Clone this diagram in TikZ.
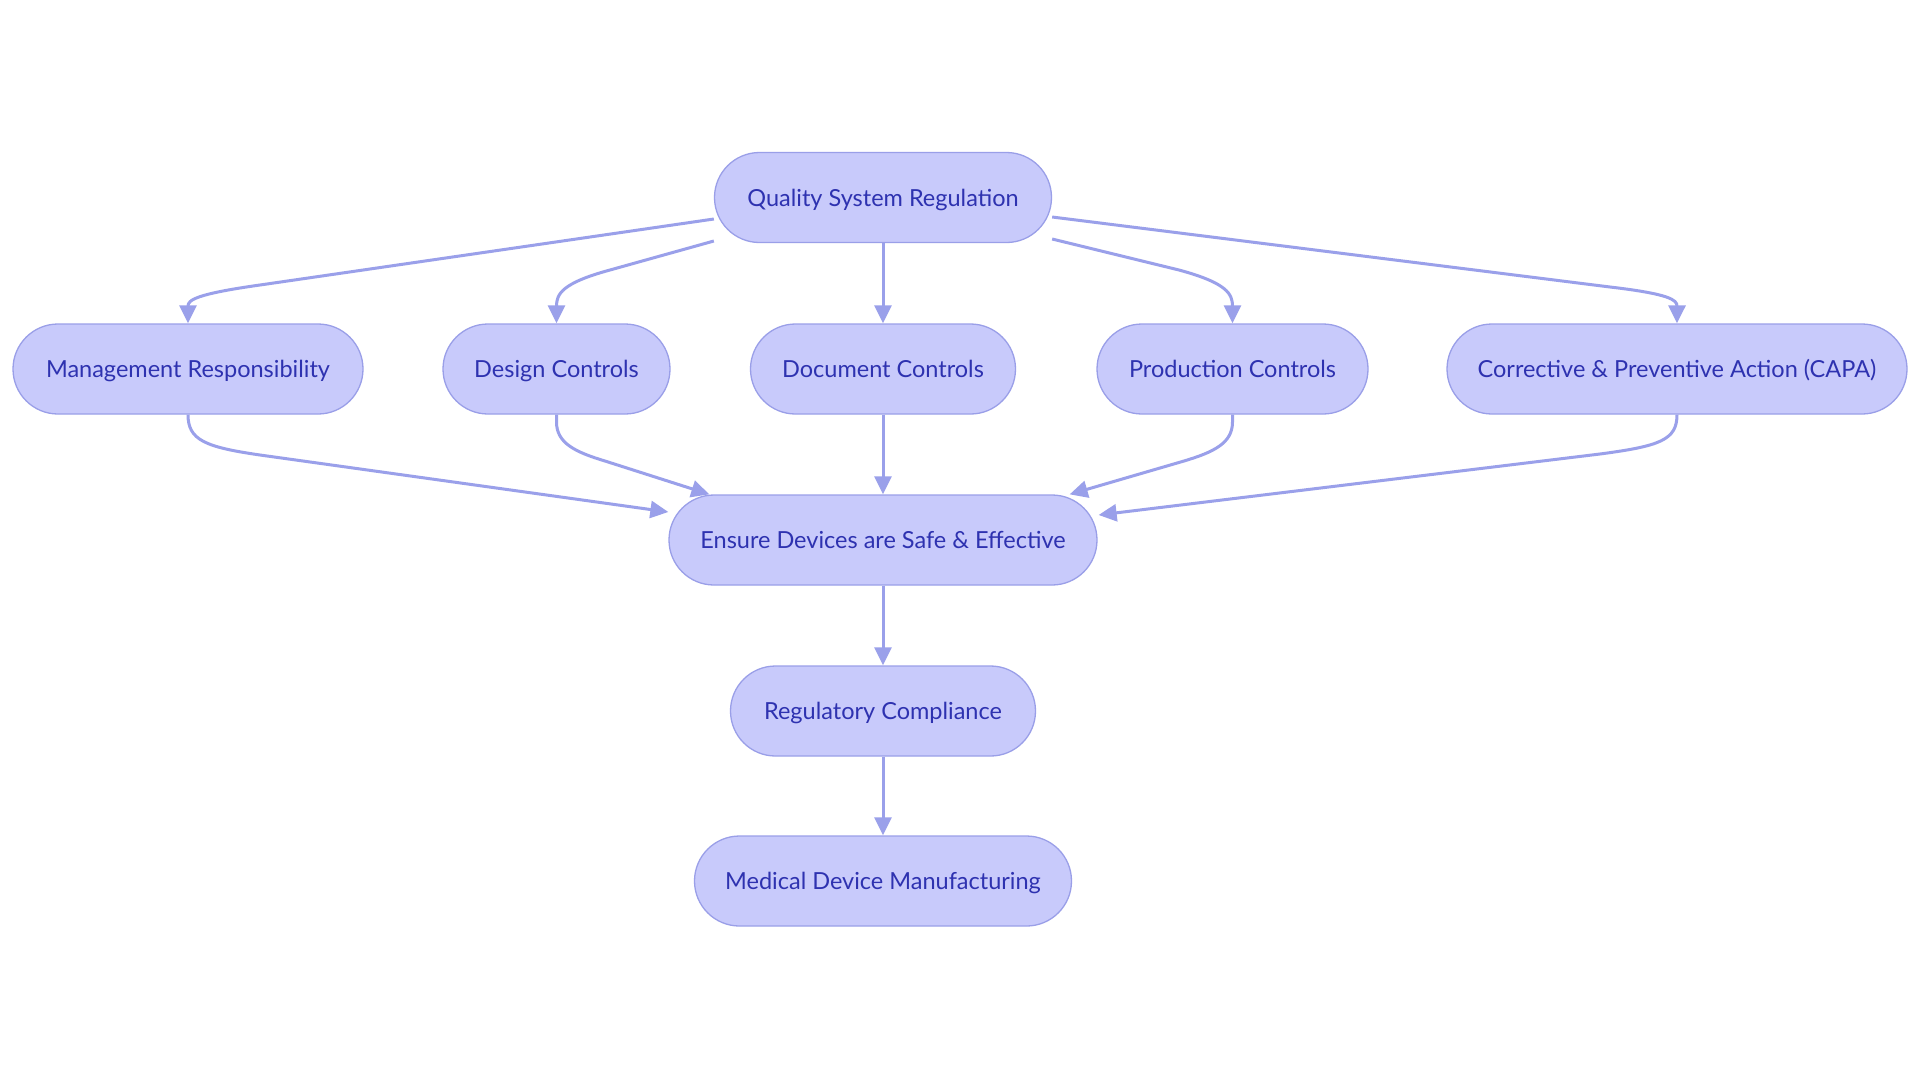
\documentclass[tikz,border=0pt]{standalone}
\usepackage{fontspec}
\setmainfont{Lato}
\usetikzlibrary{arrows.meta,calc}
\definecolor{boxfill}{HTML}{C8CAFB}
\definecolor{boxline}{HTML}{9A9FE8}
\definecolor{edgecol}{HTML}{9AA0EA}
\definecolor{txt}{HTML}{2E32B0}
\tikzset{
  box/.style={draw=boxline, line width=1.3pt, fill=boxfill, rounded corners=45pt,
    minimum height=90pt, inner sep=0pt, text=txt, text height=19pt, text depth=2pt,
    font=\fontsize{23.5}{28}\selectfont},
  conn/.style={draw=edgecol, line width=3pt, -{Triangle[length=18pt,width=17pt]}}
}
\begin{document}
\begin{tikzpicture}[x=1pt,y=-1pt]
\useasboundingbox[fill=white] (0,0) rectangle (1920,1080);
\node[box, minimum width=337pt] (qsr) at (883,197.5) {Quality System Regulation};
\node[box, minimum width=350pt] (mgmt) at (188,369) {Management Responsibility};
\node[box, minimum width=227pt] (design) at (556.5,369) {Design Controls};
\node[box, minimum width=265pt] (doc) at (883,369) {Document Controls};
\node[box, minimum width=271pt] (prod) at (1232.5,369) {Production Controls};
\node[box, minimum width=460pt] (capa) at (1677,369) {Corrective \& Preventive Action (CAPA)};
\node[box, minimum width=428pt] (ensure) at (883,540) {Ensure Devices are Safe \& Effective};
\node[box, minimum width=305pt] (reg) at (883,711) {Regulatory Compliance};
\node[box, minimum width=377pt] (med) at (883,881) {Medical Device Manufacturing};
% top fan-out
\draw[conn] ($(qsr.west)+(0,21.5)$) -- (260,285) .. controls (196,294) and (188,300) .. (mgmt.north);
\draw[conn] ($(qsr.west)+(0,43.5)$) -- (610,270) .. controls (562,283) and (556.5,294) .. (design.north);
\draw[conn] (qsr.south) -- (doc.north);
\draw[conn] ($(qsr.east)+(0,41.5)$) -- (1179,270) .. controls (1227,283) and (1232.5,294) .. (prod.north);
\draw[conn] ($(qsr.east)+(0,19.5)$) -- (1610,287) .. controls (1670,294) and (1677,300) .. (capa.north);
% converge
\draw[conn] (mgmt.south) .. controls (188,440) and (205,447) .. (260,455) -- ($(ensure.west)+(0,-28)$);
\draw[conn] (design.south) -- (556.5,422) .. controls (556.5,443) and (575,452) .. (605,461) -- ($(ensure.north west)+(41,0)$);
\draw[conn] (doc.south) -- (ensure.north);
\draw[conn] (prod.south) -- (1232.5,422) .. controls (1232.5,443) and (1214,452) .. (1184,461) -- ($(ensure.north east)+(-28,0)$);
\draw[conn] (capa.south) .. controls (1677,440) and (1660,446) .. (1600,454) -- ($(ensure.east)+(1,-25)$);
% chain
\draw[conn] (ensure.south) -- (reg.north);
\draw[conn] (reg.south) -- (med.north);
\end{tikzpicture}
\end{document}
